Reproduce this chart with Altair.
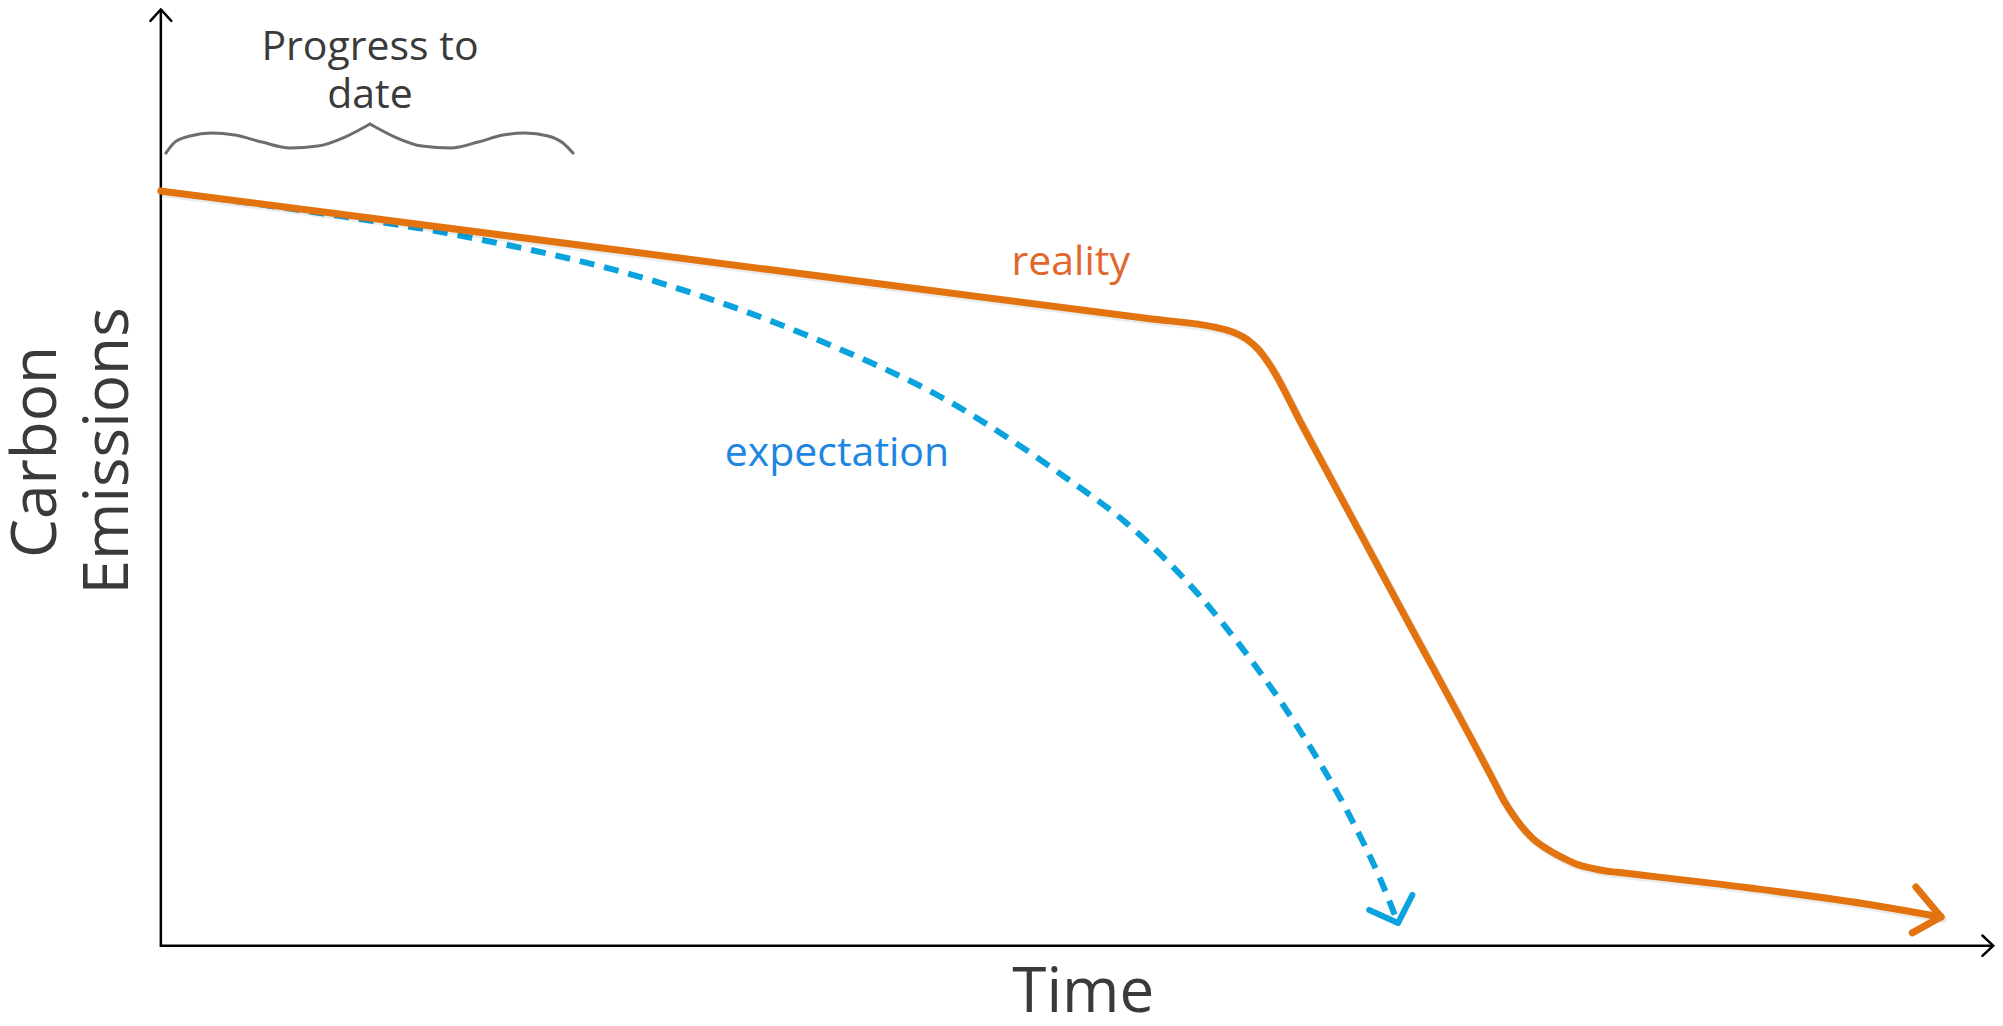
import altair as alt
import pandas as pd

# ---- data (time units along x, emission units along y) ----
reality_t = [0, 55.01, 58.68, 59.57, 60.40, 61.07, 61.63, 63.52, 68.92, 74.09, 74.70, 75.20,
             75.70, 76.32, 77.09, 77.87, 78.70, 79.48, 80.37, 80.98, 88.38, 95.50, 99.0]
reality_e = [100.2, 83.24, 82.09, 81.53, 80.52, 79.08, 77.27, 68.87, 44.92, 22.00, 19.21, 17.35,
             15.76, 14.17, 12.84, 11.78, 10.85, 10.32, 9.92, 9.75, 7.66, 5.28, 3.82]

expect_t = [0, 7.74, 16.63, 27.76, 36.49, 43.88, 50.17, 53.62, 57.68, 60.63, 63.52, 66.08, 67.86, 68.80]
expect_e = [100.2, 97.67, 94.28, 88.01, 80.48, 72.19, 62.4, 56.27, 46.69, 37.93, 27.9, 17.4, 8.59, 3.01]

reality_head_t = [97.6, 99.0, 97.4]
reality_head_e = [7.8, 3.82, 1.7]
expect_head_t = [67.2, 68.8, 69.6]
expect_head_e = [4.75, 3.01, 6.75]

brace_t = [0.28, 0.78, 1.62, 2.84, 4.12, 5.62, 7.18, 8.73, 10.24, 11.63,
           11.63, 13.02, 14.52, 16.13, 17.64, 19.03, 20.25, 21.53, 22.36, 22.92]
brace_e = [105.24, 106.70, 107.50, 107.90, 107.63, 106.70, 105.91, 106.17, 107.37, 109.1,
           109.1, 107.37, 106.17, 105.91, 106.70, 107.63, 107.90, 107.50, 106.57, 105.24]
brace_part = ["left"] * 10 + ["right"] * 10

axis_t = [0, 0, 101.9]
axis_e = [124.3, 0, 0]
y_arrow_t = [-0.58, 0, 0.58]
y_arrow_e = [122.8, 124.3, 122.8]
x_arrow_t = [101.3, 101.9, 101.3]
x_arrow_e = [1.35, 0, -1.35]

XDOM = [-8.5, 102]
YDOM = [-9.6, 124.5]

def df(t, e, group=None):
    d = pd.DataFrame({"t": t, "e": e, "i": list(range(len(t)))})
    d["g"] = group if group is not None else "a"
    return d

X = alt.X("t:Q", scale=alt.Scale(domain=XDOM, nice=False, zero=False), axis=None)
Y = alt.Y("e:Q", scale=alt.Scale(domain=YDOM, nice=False, zero=False), axis=None)
O = alt.Order("i:Q")

def line(d, **kw):
    return alt.Chart(d).mark_line(**kw).encode(x=X, y=Y, order=O, detail="g:N")

ORANGE = "#E2730F"
BLUE = "#0BA3DE"

reality_df = df(reality_t, reality_e)
expect_df = df(expect_t, expect_e)

shadow_r = alt.Chart(reality_df).transform_calculate(
    ts="datum.t + 0.1", es="datum.e - 0.3"
).mark_line(color="#000000", opacity=0.08, strokeWidth=8, interpolate="monotone",
            strokeCap="round").encode(
    x=alt.X("ts:Q", scale=alt.Scale(domain=XDOM, nice=False, zero=False), axis=None),
    y=alt.Y("es:Q", scale=alt.Scale(domain=YDOM, nice=False, zero=False), axis=None),
    order=O)

layers = [
    line(df(axis_t, axis_e), color="#000000", strokeWidth=2.5),
    line(df(y_arrow_t, y_arrow_e), color="#000000", strokeWidth=2.5, strokeCap="round"),
    line(df(x_arrow_t, x_arrow_e), color="#000000", strokeWidth=2.5, strokeCap="round"),
    line(df(brace_t, brace_e, brace_part), color="#6d6d6d", strokeWidth=3,
         interpolate="monotone", strokeCap="round"),
    line(expect_df, color=BLUE, strokeWidth=6, strokeDash=[15, 10],
         interpolate="monotone"),
    line(df(expect_head_t, expect_head_e), color=BLUE, strokeWidth=6,
         strokeCap="round", strokeJoin="round"),
    shadow_r,
    line(reality_df, color=ORANGE, strokeWidth=7, interpolate="monotone",
         strokeCap="round", strokeJoin="round"),
    line(df(reality_head_t, reality_head_e), color=ORANGE, strokeWidth=7,
         strokeCap="round", strokeJoin="round"),
]

def text(labels, ts, es, color, size, angle=0, align="center"):
    d = pd.DataFrame({"label": labels, "t": ts, "e": es})
    return alt.Chart(d).mark_text(
        font="Open Sans", fontSize=size, color=color, angle=angle,
        align=align, baseline="alphabetic"
    ).encode(x=X, y=Y, text="label:N")

layers += [
    text(["Progress to", "date"], [11.63, 11.63], [117.6, 111.2], "#3a3a3a", 41),
    text(["reality"], [50.6], [89.0], "#E2672C", 41),
    text(["expectation"], [37.6], [63.7], "#1D86E0", 41),
    text(["Time"], [51.3], [-8.8], "#3a3a3a", 62),
    text(["Carbon", "Emissions"], [-5.85, -1.83], [65.55, 65.7], "#3a3a3a", 62, angle=270),
]

chart = alt.layer(*layers).properties(
    width=1987, height=1010, padding=0,
    autosize=alt.AutoSizeParams(type="none"),
    background="white",
).configure_view(stroke=None)

chart.save("out.html", embed_options={"renderer": "svg", "actions": False})
